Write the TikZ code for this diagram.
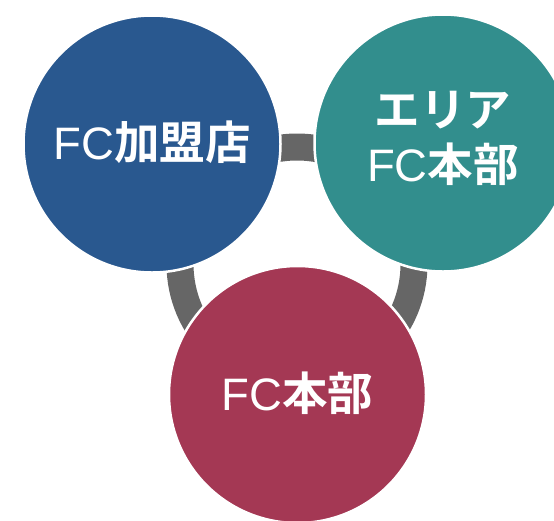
\documentclass[tikz,border=0pt]{standalone}
\usepackage{fontspec}
\newfontfamily\latfont{Liberation Sans}
\newfontfamily\jpfont{Noto Sans CJK JP Bold}
\usepackage{tikz}

\definecolor{fcblue}{HTML}{29588F}
\definecolor{fcteal}{HTML}{328E8D}
\definecolor{fcred}{HTML}{A43854}
\definecolor{ringgray}{HTML}{666666}

\tikzset{
  member/.style={shape=circle, draw=white, line width=2.5pt, minimum size=257pt,
    inner sep=0pt, text=white, align=center,
    font=\fontsize{45.5}{55}\selectfont}
}

\begin{document}
\begin{tikzpicture}[x=1pt, y=-1pt]
    \useasboundingbox (0,0) rectangle (554,520);
    \coordinate (hub) at (297,264);
    \draw[ringgray, line width=27pt] (hub) circle (117);
    \node[member, fill=fcblue] at (152,144) (shop) {\raisebox{8pt}{{\latfont FC}{\jpfont 加盟店}}};
    \node[member, fill=fcteal] at (443,143) (area) {\raisebox{3pt}{\begin{tabular}{@{}c@{}}{\jpfont エリア}\\{\latfont FC}{\jpfont 本部}\end{tabular}}};
    \node[member, fill=fcred] at (297.5,394.5) (head) {\raisebox{6pt}{{\latfont FC}{\jpfont 本部}}};
\end{tikzpicture}
\end{document}
